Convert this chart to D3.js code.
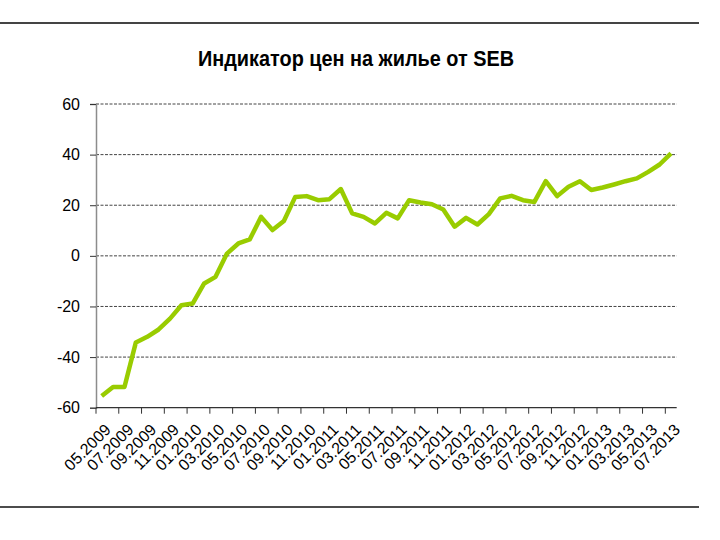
<!DOCTYPE html>
<html><head><meta charset="utf-8">
<script src="https://cdn.jsdelivr.net/npm/d3@7"></script>
<style>body{margin:0;background:#fff;}svg{display:block;font-family:"Liberation Sans",Arial,sans-serif;}</style>
</head><body>
<svg id="c" width="720" height="540"></svg>
<script>
const title = "Индикатор цен на жилье от SEB";
const months = ["05","06","07","08","09","10","11","12",
  "01","02","03","04","05","06","07","08","09","10","11","12",
  "01","02","03","04","05","06","07","08","09","10","11","12",
  "01","02","03","04","05","06","07","08","09","10","11","12",
  "01","02","03","04","05","06","07"];
const years = [2009,2009,2009,2009,2009,2009,2009,2009,
  2010,2010,2010,2010,2010,2010,2010,2010,2010,2010,2010,2010,
  2011,2011,2011,2011,2011,2011,2011,2011,2011,2011,2011,2011,
  2012,2012,2012,2012,2012,2012,2012,2012,2012,2012,2012,2012,
  2013,2013,2013,2013,2013,2013,2013];
const categories = months.map((m,i)=>m+"."+years[i]);
const values = [-55.4,-51.8,-51.8,-34.2,-32.0,-29.1,-24.8,-19.5,-18.8,-10.9,
  -8.3,0.9,4.9,6.5,15.4,10.2,13.8,23.3,23.6,22.0,
  22.4,26.4,16.8,15.4,12.8,17.0,14.8,22.0,21.1,20.4,
  18.3,11.5,15.0,12.4,16.5,22.7,23.7,22.0,21.3,29.5,
  23.6,27.3,29.5,26.0,27.0,28.2,29.5,30.6,33.2,36.1,40.5];
const yTicks = [-60,-40,-20,0,20,40,60];

const svg = d3.select("#c");
const L=96, R=676.7, T=104, B=407.7;
const x = d3.scaleBand().domain(categories).range([L,R]).padding(0);
const y = d3.scaleLinear().domain([-60,60]).range([B,T]);

// frame lines
svg.append("line").attr("x1",0).attr("x2",699).attr("y1",23).attr("y2",23).attr("stroke","#444").attr("stroke-width",2);
svg.append("line").attr("x1",0).attr("x2",699).attr("y1",507).attr("y2",507).attr("stroke","#111").attr("stroke-width",1.5);

// title
svg.append("text").attr("x",356).attr("y",66).attr("text-anchor","middle")
  .attr("font-size",22).attr("font-weight","bold").attr("fill","#000")
  .attr("textLength",316).attr("lengthAdjust","spacingAndGlyphs").text(title);

// grid
svg.append("g").selectAll("line").data(yTicks.filter(d=>d>-60)).join("line")
  .attr("x1",L).attr("x2",R).attr("y1",d=>y(d)).attr("y2",d=>y(d))
  .attr("stroke","#444").attr("stroke-width",1).attr("stroke-dasharray","3,1.5");

// y axis
const ya = svg.append("g").attr("transform",`translate(${L},0)`)
  .call(d3.axisLeft(y).tickValues(yTicks).tickSize(6).tickPadding(10).tickFormat(d=>String(d)));
ya.select(".domain").attr("stroke","#8c8c8c").attr("stroke-width",1.5);
ya.selectAll(".tick line").attr("stroke","#333");
ya.selectAll("text").attr("font-size",16).attr("fill","#000").attr("font-family","Liberation Sans, Arial, sans-serif");

// x axis
svg.append("line").attr("x1",L).attr("x2",R).attr("y1",B).attr("y2",B).attr("stroke","#333").attr("stroke-width",1.2);
const tickCats = categories.filter((d,i)=>i%2===0);
svg.append("g").selectAll("line").data(tickCats).join("line")
  .attr("x1",d=>x(d)).attr("x2",d=>x(d)).attr("y1",B).attr("y2",B+6)
  .attr("stroke","#333").attr("stroke-width",1);
svg.append("g").selectAll("text").data(tickCats).join("text")
  .attr("transform",d=>`translate(${x(d)+x.bandwidth()/2+2},${B+15}) rotate(-45)`)
  .attr("text-anchor","end").attr("dy","0.71em")
  .attr("font-size",16).attr("fill","#000").text(d=>d);

// line
const line = d3.line().x((d,i)=>x(categories[i])+x.bandwidth()/2).y(d=>y(d));
svg.append("path").datum(values).attr("d",line).attr("fill","none")
  .attr("stroke","#99cc00").attr("stroke-width",4.5).attr("stroke-linejoin","round");
</script>
</body></html>
